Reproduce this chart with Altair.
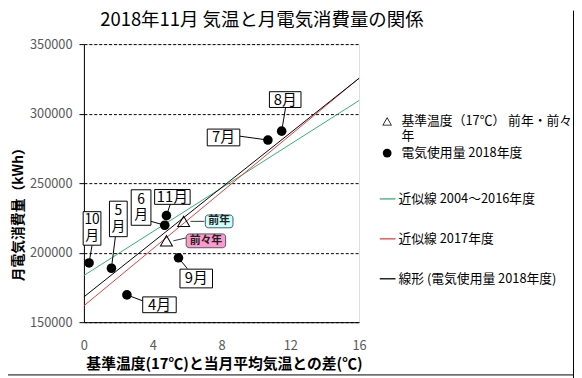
import altair as alt
import pandas as pd

# ---- data ----
months = ["4月", "5月", "6月", "7月", "8月", "9月", "10月", "11月"]
temp_diff = [2.5, 1.6, 4.7, 10.7, 11.5, 5.5, 0.3, 4.8]
usage = [169600, 188800, 219700, 281000, 287400, 196300, 192600, 226600]

ref_names = ["前年", "前々年"]
ref_diff = [5.8, 4.8]
ref_usage = [222500, 208500]

line_x = [0, 16]
green_y = [183600, 309400]
red_y = [161800, 325400]
black_y = [168200, 325400]

point_series = ["基準温度（17℃） 前年・前々年", "電気使用量  2018年度"]
line_series = ["近似線  2004～2016年度", "近似線  2017年度", "線形 (電気使用量  2018年度)"]

x_ticks = list(range(0, 17, 2))
y_ticks = [150000, 200000, 250000, 300000, 350000]

# ---- annotation layout (pixel offsets from each point) ----
lab_text = ["4月", "5\n月", "6\n月", "7月", "8月", "9月", "10\n月", "11月"]
lab_dx = [33, 7, -24, -45, 3.6, 18, 3, 6]
lab_dy = [10, -50, -18, -2.6, -32, 21, -35, -19]
box_w = [34, 18, 20, 33, 32, 33, 18, 36]
box_h = [16, 36, 36, 17, 16, 19, 34, 15]
anc_dx = [16, 4, -14, -29, 4, 9, 3, 4]
anc_dy = [6, -32, -4, -4, -24, 11, -18, -12]

call_dx = [36, 40]
call_dy = [0, 0]
call_w = [28, 40]
call_h = [13, 14]
call_anc_dx = [21, 20]
call_anc_dy = [0, -3]
call_fill = ["#ccffff", "#ff99cc"]

W, H = 279, 282
XMIN, XMAX, YMIN, YMAX = 0, 16, 150000, 350000
ux = W / (XMAX - XMIN)          # px per x unit
uy = H / (YMAX - YMIN)          # px per y unit

FONT = "Noto Sans CJK JP"
GREEN, RED = "#33b075", "#e04040"
# open triangle: outer outline with an inner hole (opposite winding)
TRI_RING = ("M0,-1L1.1,0.9L-1.1,0.9Z"
            "M0,-0.68L-0.82,0.74L0.82,0.74Z")

# ---- frames ----
pts = pd.DataFrame({"month": months, "x": temp_diff, "y": usage, "系列": point_series[1]})
tri = pd.DataFrame({"name": ref_names, "x": ref_diff, "y": ref_usage, "系列": point_series[0]})

rows = []
for name, ys in zip(line_series, [green_y, red_y, black_y]):
    for xv, yv in zip(line_x, ys):
        rows.append({"近似": name, "x": xv, "y": yv})
lines = pd.DataFrame(rows)

lab = pts.copy()
lab["text"] = lab_text
lab["multi"] = ["\n" in t for t in lab_text]
lab["cx"] = lab["x"] + pd.Series(lab_dx) / ux
lab["cy"] = lab["y"] - pd.Series(lab_dy) / uy
lab["x1"] = lab["cx"] - pd.Series(box_w) / 2 / ux
lab["x2"] = lab["cx"] + pd.Series(box_w) / 2 / ux
lab["y1"] = lab["cy"] - pd.Series(box_h) / 2 / uy
lab["y2"] = lab["cy"] + pd.Series(box_h) / 2 / uy
lab["ax"] = lab["x"] + pd.Series(anc_dx) / ux
lab["ay"] = lab["y"] - pd.Series(anc_dy) / uy

cal = tri.copy()
cal["cx"] = cal["x"] + pd.Series(call_dx) / ux
cal["cy"] = cal["y"] - pd.Series(call_dy) / uy
cal["x1"] = cal["cx"] - pd.Series(call_w) / 2 / ux
cal["x2"] = cal["cx"] + pd.Series(call_w) / 2 / ux
cal["y1"] = cal["cy"] - pd.Series(call_h) / 2 / uy
cal["y2"] = cal["cy"] + pd.Series(call_h) / 2 / uy
cal["ax"] = cal["x"] + pd.Series(call_anc_dx) / ux
cal["ay"] = cal["y"] - pd.Series(call_anc_dy) / uy
cal["sx"] = cal["x"] + 7 / ux

# ---- scales / axes / legends ----
xs = alt.Scale(domain=[XMIN, XMAX], nice=False, zero=False)
ys = alt.Scale(domain=[YMIN, YMAX], nice=False, zero=False)

x_axis = alt.Axis(
    values=x_ticks, grid=False, ticks=False, tickSize=0, labelPadding=18,
    labelFlush=False, labelOverlap=False, labelColor="#595959", labelFontSize=13,
    labelFont=FONT, domainColor="black",
    title="基準温度(17℃)と当月平均気温との差(℃)", titleFont=FONT, titleFontSize=15,
    titleFontWeight="bold", titleColor="black", titleX=142, titleY=42,
    titleBaseline="middle", titleAlign="center",
)
y_axis = alt.Axis(
    values=y_ticks, format="d", grid=True, gridDash=[3, 2], gridColor="black",
    gridOpacity=1, tickSize=5, tickColor="black", labelPadding=7,
    labelColor="#595959", labelFontSize=13, labelFont=FONT, domainColor="black",
    labelFlush=False,
    title="月電気消費量（kWh）", titleFont=FONT, titleFontSize=14,
    titleFontWeight="bold", titleColor="black", titleAngle=-90,
    titleX=-66, titleY=169, titleBaseline="middle", titleAlign="center",
)
X = alt.X("x:Q", scale=xs, axis=x_axis)
Y = alt.Y("y:Q", scale=ys, axis=y_axis)

legend_pts = alt.Legend(
    title=None, orient="none", legendX=301, legendY=72,
    labelFont=FONT, labelFontSize=13, labelColor="black", labelLimit=250,
    symbolSize=80, symbolFillColor="black", symbolStrokeWidth=0,
    rowPadding=3, labelOffset=8,
    labelExpr="datum.label == '" + point_series[0] + "' ? ['基準温度（17℃） 前年・前々', '年'] : datum.label",
)
legend_lines = alt.Legend(
    title=None, orient="none", legendX=299, legendY=148,
    labelFont=FONT, labelFontSize=13, labelColor="black", labelLimit=250,
    symbolType="stroke", symbolSize=256, symbolStrokeWidth=1.3,
    rowPadding=24.5, labelOffset=2,
)
shape_enc = alt.Shape("系列:N", scale=alt.Scale(domain=point_series, range=[TRI_RING, "circle"]), legend=legend_pts)
stroke_enc = alt.Stroke("近似:N", scale=alt.Scale(domain=line_series, range=[GREEN, RED, "black"]), legend=legend_lines)

line_layer = alt.Chart(lines).mark_line(strokeWidth=1).encode(x=X, y=Y, stroke=stroke_enc)

lead = alt.Chart(lab).mark_rule(color="black", strokeWidth=1).encode(x=X, y=Y, x2="ax:Q", y2="ay:Q")
circ = alt.Chart(pts).mark_point(size=95, filled=True, color="black", opacity=1).encode(
    x=X, y=Y, shape=shape_enc)
tri_layer = alt.Chart(tri).mark_point(size=160, filled=True, color="black", opacity=1).encode(
    x=X, y=Y, shape=shape_enc)

box = alt.Chart(lab).mark_rect(fill="white", stroke="black", strokeWidth=1).encode(
    x=alt.X("x1:Q", scale=xs), x2="x2:Q", y=alt.Y("y1:Q", scale=ys), y2="y2:Q")
txt_single = alt.Chart(lab).transform_filter("!datum.multi").mark_text(
    font=FONT, fontSize=15, color="black", baseline="middle").encode(
    x=alt.X("cx:Q", scale=xs), y=alt.Y("cy:Q", scale=ys), text="text:N")
txt_multi = alt.Chart(lab).transform_filter("datum.multi").mark_text(
    font=FONT, fontSize=14, color="black", lineBreak="\n", lineHeight=16,
    baseline="middle", dy=-8).encode(
    x=alt.X("cx:Q", scale=xs), y=alt.Y("cy:Q", scale=ys), text="text:N")

call_line = alt.Chart(cal).mark_rule(color="#333333", strokeWidth=1).encode(
    x=alt.X("sx:Q", scale=xs), y=alt.Y("y:Q", scale=ys), x2="ax:Q", y2="ay:Q")
call_boxes = [
    alt.Chart(cal).transform_filter(alt.datum.name == nm).mark_rect(
        stroke="#4a5a6a", strokeWidth=1, cornerRadius=3, fill=fc).encode(
        x=alt.X("x1:Q", scale=xs), x2="x2:Q", y=alt.Y("y1:Q", scale=ys), y2="y2:Q")
    for nm, fc in zip(ref_names, call_fill)
]
call_txt = alt.Chart(cal).mark_text(font=FONT, fontSize=11, fontWeight="bold", color="#222222",
                                     baseline="middle").encode(
    x=alt.X("cx:Q", scale=xs), y=alt.Y("cy:Q", scale=ys), text="name:N")

frame_r = alt.Chart(pd.DataFrame({"k": [0]})).mark_rule(color="black", strokeWidth=1).encode(
    x=alt.value(496.5), y=alt.value(-34), y2=alt.value(400))
frame_b = alt.Chart(pd.DataFrame({"k": [0]})).mark_rule(color="black", strokeWidth=1).encode(
    x=alt.value(-80), x2=alt.value(500), y=alt.value(335.5))

chart = alt.layer(
    line_layer, lead, circ, tri_layer, box, txt_single, txt_multi,
    call_line, *call_boxes, call_txt, frame_r, frame_b
).properties(
    width=W, height=H,
    autosize=alt.AutoSizeParams(type="none"),
    padding={"left": 77, "top": 34, "right": 218, "bottom": 54},
    title=alt.TitleParams(
        "2018年11月  気温と月電気消費量の関係", font=FONT, fontSize=18.7,
        fontWeight="normal", color="black", anchor="middle", dx=41, offset=-20,
    ),
).configure_view(stroke=None).configure(background="white")

chart.save("out.html", embed_options={"renderer": "svg", "actions": False})
